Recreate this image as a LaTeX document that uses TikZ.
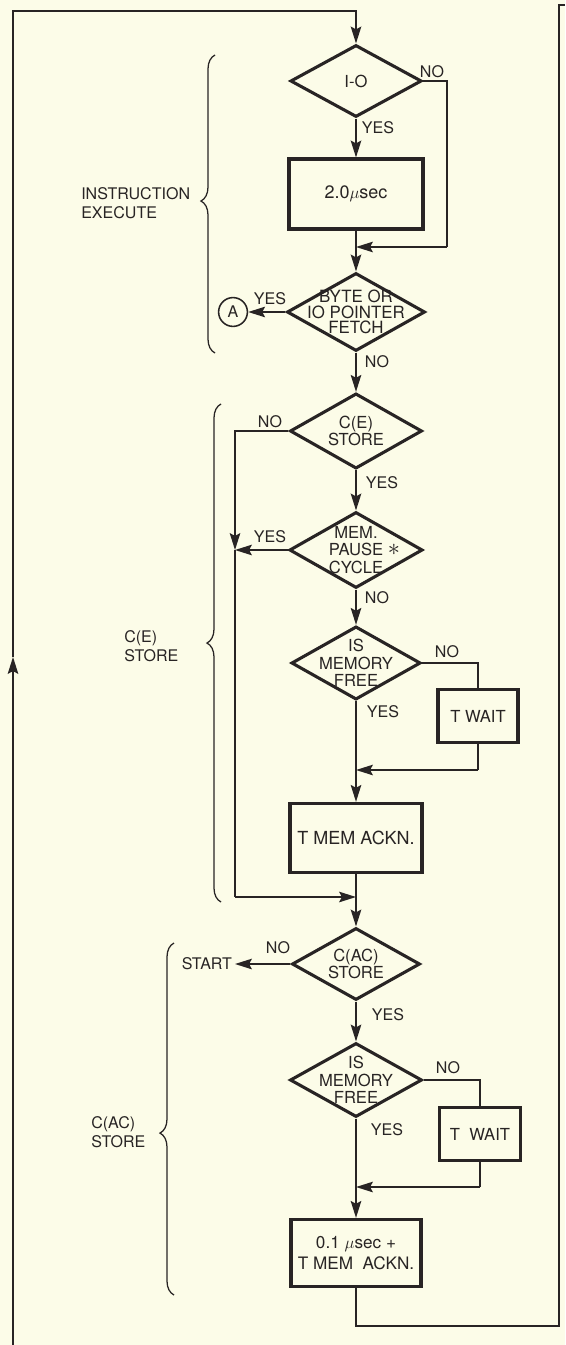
\documentclass[tikz,border=0pt]{standalone}
\usepackage{fontspec}
\setmainfont{TeX Gyre Heros}
\definecolor{paper}{RGB}{252,252,232}
\definecolor{ink}{RGB}{40,36,36}
\usetikzlibrary{arrows.meta,positioning,shapes.geometric,decorations.pathreplacing}

\newcommand{\flowfont}{\fontsize{11.4}{12.6}\selectfont}
\newcommand{\diafont}{\fontsize{11.8}{12.6}\selectfont}
\newcommand{\boxfont}{\fontsize{12.8}{14.5}\selectfont}
\newcommand{\bytefont}{\fontsize{12}{10.8}\selectfont}
\newcommand{\groupfont}{\fontsize{11.4}{13.6}\selectfont}

\begin{document}
\begin{tikzpicture}[x=0.025cm,y=-0.025cm,
  wire/.style={draw=ink, line width=1.1pt},
  arr/.style={wire, -{Stealth[length=12pt,width=7.5pt,inset=2pt]}},
  decision/.style={diamond, draw=ink, line width=2.2pt, inner sep=0pt},
  process/.style={rectangle, draw=ink, line width=2.2pt, align=center, font=\boxfont, text=ink},
  dtext/.style={align=center, font=\diafont, text=ink, inner sep=0pt},
  yn/.style={font=\flowfont, text=ink, inner sep=0pt},
  grouptext/.style={align=left, anchor=west, font=\groupfont, text=ink, inner sep=0pt},
  groupbrace/.style={draw=ink, line width=0.9pt, decorate, decoration={brace, amplitude=0.35cm, aspect=#1}}
]
  \useasboundingbox (0,0) rectangle (565,1345);
  \fill[paper] (0,0) rectangle (565,1345);

  % Instruction execute
  \node[decision, minimum width=3.28cm, minimum height=1.8cm, label={[dtext]center:I-O}] (io) at (356,81) {};
  \node[process, minimum width=3.35cm, minimum height=1.75cm] (exec) at (356,194) {2.0$\mu$sec};
  \node[decision, minimum width=3.45cm, minimum height=1.95cm, label={[dtext, font=\bytefont]center:{BYTE OR\\IO POINTER\\FETCH}}] (fetch) at (356,312) {};
  \node[circle, draw=ink, line width=1.1pt, minimum size=0.72cm, inner sep=0pt, font=\flowfont, text=ink] (conA) at (233,312) {A};

  % C(E) store
  \node[decision, minimum width=3.3cm, minimum height=1.88cm, label={[dtext]center:{C(E)\\STORE}}] (ce) at (356,431) {};
  \node[decision, minimum width=3.33cm, minimum height=1.9cm, label={[dtext]center:{MEM.\\PAUSE\rlap{~{\fontsize{16}{16}\selectfont$\ast$}}\\CYCLE}}] (mp) at (356,550) {};
  \node[decision, minimum width=3.23cm, minimum height=1.83cm, label={[dtext]center:{IS\\MEMORY\\FREE}}] (mf1) at (356,663) {};
  \node[process, minimum width=2.0cm, minimum height=1.33cm, font=\diafont] (tw1) at (478,716) {T WAIT};
  \node[process, minimum width=3.3cm, minimum height=1.73cm] (ack) at (356,838) {T MEM ACKN.};

  % C(AC) store
  \node[decision, minimum width=3.2cm, minimum height=1.8cm, label={[dtext]center:{C(AC)\\STORE}}] (cac) at (356,964) {};
  \node[yn, anchor=east, inner sep=2pt] (start) at (235,964) {START};
  \node[decision, minimum width=3.3cm, minimum height=1.85cm, label={[dtext]center:{IS\\MEMORY\\FREE}}] (mf2) at (356,1080) {};
  \node[process, minimum width=2.03cm, minimum height=1.33cm, font=\diafont] (tw2) at (480,1134) {T\ \ WAIT};
  \node[process, minimum width=3.25cm, minimum height=1.68cm, font=\fontsize{12.2}{14.5}\selectfont] (fin) at (356,1253) {0.1 $\mu$sec +\\T MEM\ \ ACKN.};

  % junctions
  \coordinate (botl) at (13,1345);
  \coordinate (midl) at (13,657);
  \coordinate (topl) at (13,11);
  \coordinate (skipr) at (447,247);
  \coordinate (skipm) at (356,247);
  \coordinate (byp) at (235,550);
  \coordinate (bypend) at (235,897);
  \coordinate (join) at (356,897);
  \coordinate (w1r) at (478,770);
  \coordinate (w1m) at (356,770);
  \coordinate (w2r) at (480,1187);
  \coordinate (w2m) at (356,1187);
  \coordinate (finb) at (356,1326);
  \coordinate (retb) at (559,1326);
  \coordinate (rett) at (559,5);
  \coordinate (offr) at (565,5);

  % connectors
  \draw[arr] (botl) -- (midl);
  \draw[arr] (midl) -- (topl) -| (io.north);
  \draw[arr] (io.south) -- (exec.north);
  \draw[wire] (io.east) -| (skipr);
  \draw[arr] (skipr) -- (skipm);
  \draw[wire] (exec.south) -- (skipm);
  \draw[arr] (skipm) -- (fetch.north);
  \draw[arr] (fetch.west) -- (conA.east);
  \draw[arr] (fetch.south) -- (ce.north);
  \draw[arr] (ce.west) -| (byp);
  \draw[arr] (mp.west) -- (byp);
  \draw[wire] (byp) -- (bypend);
  \draw[arr] (bypend) -- (join);
  \draw[arr] (ce.south) -- (mp.north);
  \draw[arr] (mp.south) -- (mf1.north);
  \draw[wire] (mf1.east) -| (tw1.north);
  \draw[wire] (tw1.south) -- (w1r);
  \draw[arr] (w1r) -- (w1m);
  \draw[wire] (mf1.south) -- (w1m);
  \draw[arr] (w1m) -- (ack.north);
  \draw[wire] (ack.south) -- (join);
  \draw[arr] (join) -- (cac.north);
  \draw[arr] (cac.west) -- (start.east);
  \draw[arr] (cac.south) -- (mf2.north);
  \draw[wire] (mf2.east) -| (tw2.north);
  \draw[wire] (tw2.south) -- (w2r);
  \draw[arr] (w2r) -- (w2m);
  \draw[wire] (mf2.south) -- (w2m);
  \draw[arr] (w2m) -- (fin.north);
  \draw[wire] (fin.south) -- (finb) -- (retb) -- (rett) -- (offr);

  % branch labels
  \node[yn] (ioNo) at (432,72) {NO};
  \node[yn] (ioYes) at (378,128) {YES};
  \node[yn] (fetchYes) at (270,299) {YES};
  \node[yn] (fetchNo) at (377,362) {NO};
  \node[yn] (ceNo) at (270,422) {NO};
  \node[yn] (ceYes) at (382,483) {YES};
  \node[yn] (mpYes) at (270,537) {YES};
  \node[yn] (mpNo) at (377,598) {NO};
  \node[yn] (mfaNo) at (447,652) {NO};
  \node[yn] (mfaYes) at (383,712) {YES};
  \node[yn] (cacNo) at (278,948) {NO};
  \node[yn] (cacYes) at (388,1015) {YES};
  \node[yn] (mfbNo) at (448,1068) {NO};
  \node[yn] (mfbYes) at (387,1130) {YES};

  % group braces
  \draw[groupbrace=0.51] (215,353) -- (215,55);
  \draw[groupbrace=0.52] (221,902) -- (221,404);
  \draw[groupbrace=0.46] (174,1295) -- (174,943);
  \node[grouptext] (gexec) at (81,203) {INSTRUCTION\\EXECUTE};
  \node[grouptext] (gce) at (124,646) {C(E)\\STORE};
  \node[grouptext] (gcac) at (91,1132) {C(AC)\\STORE};
\end{tikzpicture}
\end{document}
